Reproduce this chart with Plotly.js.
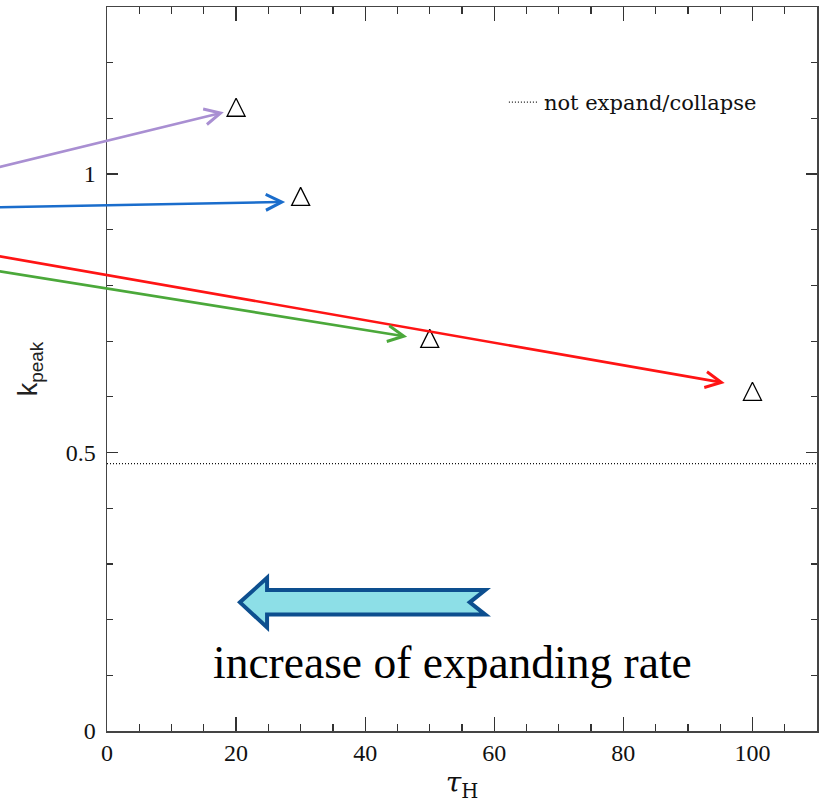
<!DOCTYPE html>
<html>
<head>
<meta charset="utf-8">
<script src="https://cdn.plot.ly/plotly-3.0.1.min.js"></script>
<style>
  html, body { margin: 0; padding: 0; background: #ffffff; }
  #chart { width: 823px; height: 803px; }
</style>
</head>
<body>
<div id="chart"></div>
<script>
// Peak wavenumber of each run against the Hubble time tau_H
const tauH  = [20, 30, 50, 100];
const kPeak = [1.12, 0.96, 0.705, 0.61];

// Trajectories of the runs: tail (start) -> head (end) in data units
const runColors = ['#a98fd2', '#1a6dcc', '#ff1414', '#4ba83a'];
const tailTau   = [-18, -18, -18, -18];
const tailK     = [1.009, 0.940, 0.855, 0.828];
const headTau   = [18.1, 27.6, 95.7, 46.5];
const headK     = [1.111, 0.950, 0.625, 0.708];

// Reference level of a static (not expanding / collapsing) box
const staticK = 0.48;
const staticLabel = 'not expand/collapse';

// Direction hint: outline of a left-pointing block arrow (data units)
const hintTau = [20.6, 24.8, 24.8, 58.6, 56.2, 58.6, 24.8, 24.8];
const hintK   = [0.231, 0.275, 0.253, 0.253, 0.231, 0.209, 0.209, 0.186];
const hintText = 'increase of expanding rate';

const xRange = [0, 110];
const yRange = [0, 1.3];

const traces = [
  {
    x: xRange, y: [staticK, staticK],
    mode: 'lines', name: staticLabel, showlegend: true,
    line: { color: '#111111', width: 1.2, dash: '1px,2px' },
    hoverinfo: 'skip'
  },
  {
    // tall open triangles: a flipped down-arrow symbol, shifted so it is centred on the point
    x: tauH, y: kPeak,
    mode: 'markers', showlegend: false,
    marker: { symbol: 'arrow-down-open', angle: 180, size: 18, standoff: 9, color: '#000000',
              line: { color: '#000000', width: 1.3 } },
    cliponaxis: false
  }
];

// arrows as annotations so that the tails may run out past the left axis
const annotations = runColors.map((c, i) => ({
  x: headTau[i], y: headK[i], xref: 'x', yref: 'y',
  ax: tailTau[i], ay: tailK[i], axref: 'x', ayref: 'y',
  text: '', showarrow: true,
  arrowhead: 5, arrowsize: 1.2, arrowwidth: 2.6, arrowcolor: c,
  standoff: 0, startstandoff: 0
}));

annotations.push({
  x: 53.6, y: 0.123, xref: 'x', yref: 'y',
  text: hintText, showarrow: false,
  xanchor: 'center', yanchor: 'middle',
  font: { family: 'Liberation Serif, serif', size: 45.5, color: '#000000' }
});

let hintPath = 'M' + hintTau.map((t, i) => t + ',' + hintK[i]).join(' L') + ' Z';

const tickFont = { family: 'Liberation Serif, serif', size: 24, color: '#111111' };

const axisCommon = {
  showgrid: false, zeroline: false,
  showline: true, linecolor: '#444444', linewidth: 1.5,
  mirror: 'allticks', ticks: 'inside', tickcolor: '#333333', tickwidth: 1.2
};

const layout = {
  width: 823, height: 803,
  margin: { l: 107, r: 6, t: 7, b: 72 },
  paper_bgcolor: '#ffffff', plot_bgcolor: '#ffffff',
  font: { family: 'Liberation Serif, serif', color: '#111111' },
  showlegend: true,
  legend: {
    x: 0.559, y: 0.868, xanchor: 'left', yanchor: 'middle',
    bgcolor: 'rgba(0,0,0,0)', borderwidth: 0,
    font: { family: 'DejaVu Serif, serif', size: 21, color: '#111111' }
  },
  xaxis: Object.assign({}, axisCommon, {
    range: xRange, tickmode: 'linear', tick0: 0, dtick: 20, ticklen: 14,
    tickfont: Object.assign({}, tickFont),
    minor: { dtick: 5, ticks: 'inside', ticklen: 7, tickcolor: '#333333', tickwidth: 1.2 },
    title: { text: '<i>τ</i><sub>H</sub>', standoff: 8,
             font: { family: 'DejaVu Serif, serif', size: 28, color: '#111111' } }
  }),
  yaxis: Object.assign({}, axisCommon, {
    range: yRange, tickmode: 'linear', tick0: 0, dtick: 0.5, ticklen: 11,
    ticklabelstandoff: 5,
    tickfont: Object.assign({}, tickFont),
    minor: { dtick: 0.1, ticks: 'inside', ticklen: 6, tickcolor: '#333333', tickwidth: 1.2 },
    title: { text: 'k<sub>peak</sub>', standoff: 20,
             font: { family: 'Liberation Sans, sans-serif', size: 27, color: '#222222' } }
  }),
  shapes: [{
    type: 'path', xref: 'x', yref: 'y', path: hintPath,
    fillcolor: '#8ddfe7', line: { color: '#0d4f8f', width: 4 }
  }],
  annotations: annotations
};

Plotly.newPlot('chart', traces, layout, { displayModeBar: false, staticPlot: true });
</script>
</body>
</html>
